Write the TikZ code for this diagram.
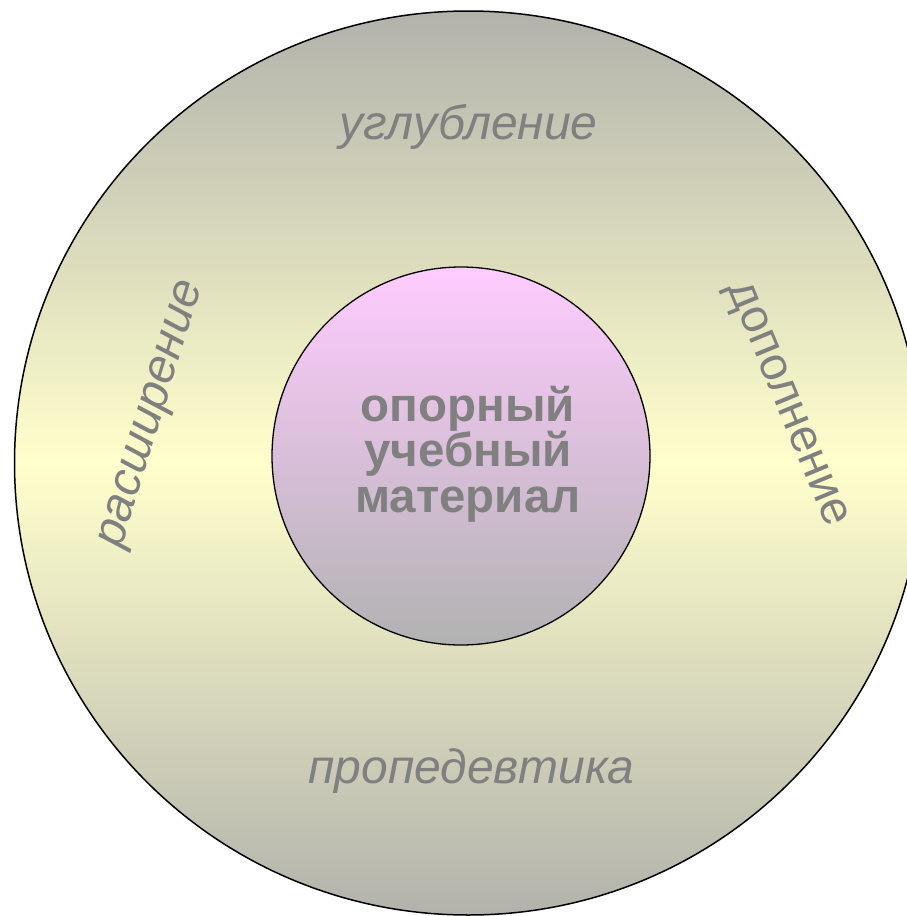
\documentclass[tikz,border=0pt]{standalone}
\usepackage{fontspec}
\setmainfont{Liberation Sans}
\definecolor{ringgrey}{RGB}{178,178,172}
\definecolor{ringyellow}{RGB}{255,255,204}
\definecolor{corepink}{RGB}{255,204,255}
\definecolor{coregrey}{RGB}{178,178,178}
\definecolor{txtgrey}{RGB}{128,128,128}
\tikzset{
  ringlabel/.style={text=txtgrey, inner sep=0pt, font=\fontsize{48}{54}\selectfont\itshape},
  ringlabelup/.style={text=txtgrey, inner sep=0pt, font=\fontsize{47}{54}\selectfont},
  corelabel/.style={text=txtgrey, inner sep=0pt, align=center, font=\fontsize{47.5}{45.5}\selectfont\bfseries},
}
\begin{document}
\begin{tikzpicture}[x=1pt,y=-1pt]
\useasboundingbox (0,0) rectangle (907,916);
\begin{scope}
\clip (0,0) rectangle (907,916);
\path[draw=black, line width=1.5pt, top color=ringgrey, bottom color=ringgrey, middle color=ringyellow]
  (468.5,463) ellipse [x radius=454, y radius=452];
\end{scope}
\node[circle, draw=black, line width=1.3pt, minimum size=378pt, inner sep=0pt,
  top color=corepink, bottom color=coregrey] (core) at (461,456) {};
\node[corelabel] (coretext) at (468,454) {опорный\\учебный\\материал};
\node[ringlabel] (top) at (468.5,127) {углубление};
\node[ringlabel] (bottom) at (471.5,771) {пропедевтика};
\node[ringlabel, rotate=73] (left) at (154,415) {расширение};
\node[ringlabelup, rotate=-67.5] (right) at (785,405) {дополнение};
\end{tikzpicture}
\end{document}
